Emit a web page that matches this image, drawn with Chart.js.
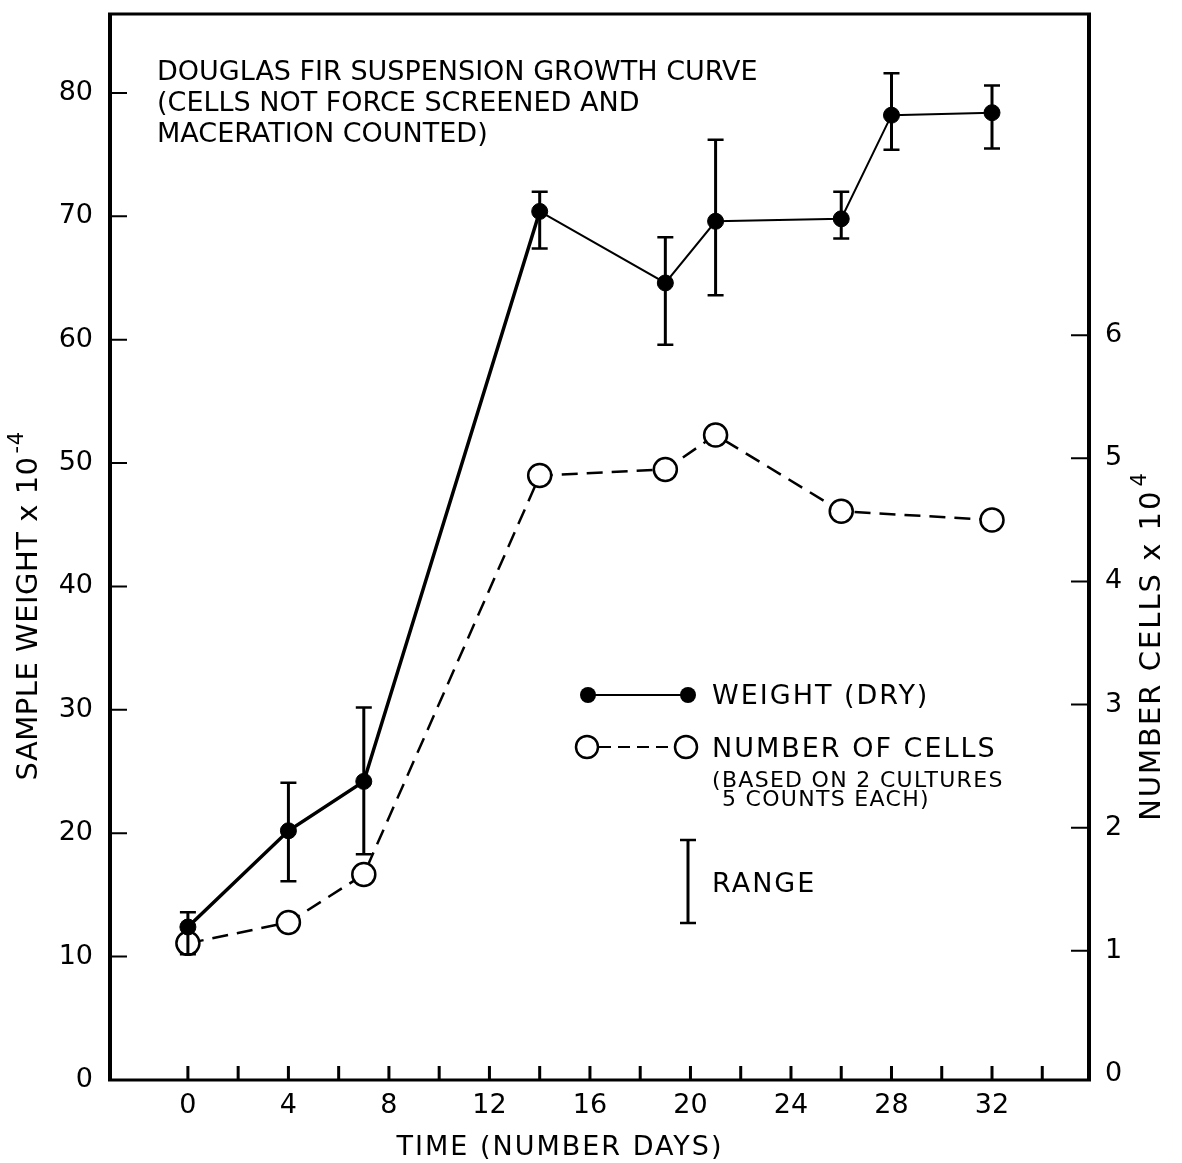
<!DOCTYPE html>
<html>
<head>
<meta charset="utf-8">
<script src="https://cdn.jsdelivr.net/npm/chart.js@4.4.1/dist/chart.umd.min.js"></script>
<style>
  body { margin: 0; background: #fff; }
  #wrap { width: 1182px; height: 1163px; }
</style>
</head>
<body>
<div id="wrap"><canvas id="growthChart" width="1182" height="1163"></canvas></div>
<script>
// days sampled
const weightDays = [0, 4, 7, 14, 19, 21, 26, 28, 32];
const weight = [12.4, 20.2, 24.2, 70.4, 64.6, 69.6, 69.8, 78.2, 78.4];
const weightLow = [10.2, 16.1, 18.3, 67.4, 59.6, 63.6, 68.2, 75.4, 75.5];
const weightHigh = [13.6, 24.1, 30.2, 72.0, 68.3, 76.2, 72.0, 81.6, 80.6];

const cellDays = [0, 4, 7, 14, 19, 21, 26, 32];
const cells = [1.06, 1.23, 1.62, 4.86, 4.91, 5.19, 4.57, 4.50];

const xLabelTicks = [0, 4, 8, 12, 16, 20, 24, 28, 32];
const xMinorTicks = [0, 2, 4, 6, 8, 10, 12, 14, 16, 18, 20, 22, 24, 26, 28, 30, 32, 34];
const weightTicks = [0, 10, 20, 30, 40, 50, 60, 70, 80];
const cellTicks = [0, 1, 2, 3, 4, 5, 6];

const FONT = '"DejaVu Sans", sans-serif';

function textWithSup(ctx, cx, cy, base, sup, size, rot, spacing) {
  ctx.save();
  ctx.translate(cx, cy);
  ctx.rotate(rot);
  ctx.fillStyle = '#000';
  ctx.textAlign = 'left';
  ctx.textBaseline = 'alphabetic';
  ctx.letterSpacing = spacing + 'px';
  const small = Math.round(size * 0.72);
  ctx.font = size + 'px ' + FONT;
  const w1 = ctx.measureText(base).width;
  ctx.font = small + 'px ' + FONT;
  const w2 = ctx.measureText(sup).width;
  const x0 = -(w1 + w2 + 3) / 2;
  const base_y = size * 0.36;
  ctx.font = size + 'px ' + FONT;
  ctx.fillText(base, x0, base_y);
  ctx.font = small + 'px ' + FONT;
  ctx.fillText(sup, x0 + w1 + 3, base_y - size * 0.5);
  ctx.restore();
}

// frame, inward ticks, error bars, notes and legend
const decorPlugin = {
  id: 'decor',
  beforeDatasetsDraw(chart) {
    const ctx = chart.ctx;
    const a = chart.chartArea;
    const xs = chart.scales.x, yl = chart.scales.y, yr = chart.scales.y1;
    ctx.save();
    ctx.strokeStyle = '#000';
    ctx.lineCap = 'butt';

    // frame
    ctx.lineWidth = 4;
    ctx.beginPath();
    ctx.moveTo(a.left, a.top); ctx.lineTo(a.left, a.bottom);
    ctx.moveTo(a.right, a.top); ctx.lineTo(a.right, a.bottom);
    ctx.stroke();
    ctx.lineWidth = 3;
    ctx.beginPath();
    ctx.moveTo(a.left - 2, a.bottom); ctx.lineTo(a.right + 2, a.bottom);
    ctx.moveTo(a.left - 2, a.top); ctx.lineTo(a.right + 2, a.top);
    ctx.stroke();

    // inward ticks
    ctx.lineWidth = 3;
    ctx.beginPath();
    xMinorTicks.forEach(v => {
      const x = xs.getPixelForValue(v);
      ctx.moveTo(x, a.bottom); ctx.lineTo(x, a.bottom - 14);
    });
    ctx.stroke();
    ctx.lineWidth = 2;
    ctx.beginPath();
    weightTicks.slice(1).forEach(v => {
      const y = yl.getPixelForValue(v);
      ctx.moveTo(a.left, y); ctx.lineTo(a.left + 17, y);
    });
    cellTicks.slice(1).forEach(v => {
      const y = yr.getPixelForValue(v);
      ctx.moveTo(a.right, y); ctx.lineTo(a.right - 18, y);
    });
    ctx.stroke();
    ctx.restore();
  },
  afterDatasetsDraw(chart) {
    const ctx = chart.ctx;
    const xs = chart.scales.x, yl = chart.scales.y;
    ctx.save();
    ctx.strokeStyle = '#000';
    ctx.fillStyle = '#000';

    // range bars on weight
    weightDays.forEach((d, i) => {
      const x = xs.getPixelForValue(d);
      const y0 = yl.getPixelForValue(weightLow[i]);
      const y1 = yl.getPixelForValue(weightHigh[i]);
      ctx.lineWidth = 3;
      ctx.beginPath();
      ctx.moveTo(x, y0); ctx.lineTo(x, y1);
      ctx.stroke();
      ctx.lineWidth = 2.5;
      ctx.beginPath();
      ctx.moveTo(x - 8, y0); ctx.lineTo(x + 8, y0);
      ctx.moveTo(x - 8, y1); ctx.lineTo(x + 8, y1);
      ctx.stroke();
    });

    // note at top left
    ctx.textAlign = 'left';
    ctx.textBaseline = 'alphabetic';
    ctx.font = '27px ' + FONT;
    ctx.fillText('DOUGLAS FIR SUSPENSION GROWTH CURVE', 157, 80);
    ctx.fillText('(CELLS NOT FORCE SCREENED AND', 157, 111);
    ctx.fillText('MACERATION COUNTED)', 157, 142);

    // legend
    ctx.lineWidth = 2;
    ctx.beginPath();
    ctx.moveTo(588, 695); ctx.lineTo(688, 695);
    ctx.stroke();
    [588, 688].forEach(x => {
      ctx.beginPath(); ctx.arc(x, 695, 8, 0, Math.PI * 2); ctx.fill();
    });
    ctx.setLineDash([12, 7]);
    ctx.beginPath();
    ctx.moveTo(599, 747); ctx.lineTo(675, 747);
    ctx.stroke();
    ctx.setLineDash([]);
    ctx.lineWidth = 2.5;
    [587, 686].forEach(x => {
      ctx.beginPath(); ctx.arc(x, 747, 11, 0, Math.PI * 2);
      ctx.fillStyle = '#fff'; ctx.fill(); ctx.stroke();
    });
    ctx.fillStyle = '#000';
    ctx.lineWidth = 3;
    ctx.beginPath();
    ctx.moveTo(688, 840); ctx.lineTo(688, 923);
    ctx.stroke();
    ctx.lineWidth = 2.5;
    ctx.beginPath();
    ctx.moveTo(680, 840); ctx.lineTo(696, 840);
    ctx.moveTo(680, 923); ctx.lineTo(696, 923);
    ctx.stroke();

    ctx.font = '27px ' + FONT;
    ctx.letterSpacing = '2px';
    ctx.fillText('WEIGHT (DRY)', 712, 704);
    ctx.fillText('NUMBER OF CELLS', 712, 757);
    ctx.fillText('RANGE', 712, 892);
    ctx.font = '22px ' + FONT;
    ctx.letterSpacing = '1.3px';
    ctx.fillText('(BASED ON 2 CULTURES', 712, 787);
    ctx.fillText('5 COUNTS EACH)', 722, 806);

    // axis titles
    ctx.font = '27px ' + FONT;
    ctx.letterSpacing = '2px';
    ctx.textAlign = 'center';
    ctx.fillText('TIME (NUMBER DAYS)', 560, 1155);
    ctx.restore();

    textWithSup(ctx, 27, 606, 'SAMPLE WEIGHT x 10', '-4', 29, -Math.PI / 2, 0.5);
    textWithSup(ctx, 1150, 646, 'NUMBER CELLS x 10', '4', 29, -Math.PI / 2, 2);
  }
};

const tickFont = { family: FONT, size: 27 };
const noPad = s => { s.paddingTop = 0; s.paddingBottom = 0; s.paddingLeft = 0; s.paddingRight = 0; };

const chart = new Chart(document.getElementById('growthChart'), {
  type: 'line',
  data: {
    datasets: [{
      label: 'WEIGHT (DRY)',
      data: weightDays.map((d, i) => ({ x: d, y: weight[i] })),
      yAxisID: 'y',
      borderColor: '#000',
      borderWidth: 2,
      segment: {
        borderWidth: c => (c.p0DataIndex < 3 ? 3.5 : 2)
      },
      pointRadius: 8,
      pointBackgroundColor: '#000',
      pointBorderColor: '#000',
      pointBorderWidth: 1,
      tension: 0,
      fill: false
    }, {
      label: 'NUMBER OF CELLS',
      data: cellDays.map((d, i) => ({ x: d, y: cells[i] })),
      yAxisID: 'y1',
      borderColor: '#000',
      borderWidth: 2.5,
      borderDash: [16, 9],
      pointRadius: 11.5,
      pointBackgroundColor: '#fff',
      pointBorderColor: '#000',
      pointBorderWidth: 2.5,
      tension: 0,
      fill: false
    }]
  },
  options: {
    responsive: false,
    animation: false,
    layout: { padding: { top: 12, left: 0, right: 0, bottom: 0 } },
    plugins: {
      legend: { display: false },
      tooltip: { enabled: false }
    },
    scales: {
      x: {
        type: 'linear',
        min: -3.1,
        max: 35.86,
        afterBuildTicks: s => { s.ticks = xLabelTicks.map(v => ({ value: v })); },
        afterFit: s => { s.height = 83; noPad(s); },
        grid: { display: false, drawTicks: false },
        border: { display: false },
        ticks: { color: '#000', font: tickFont, padding: 10, maxRotation: 0 }
      },
      y: {
        position: 'left',
        min: 0,
        max: 86.4,
        afterBuildTicks: s => { s.ticks = weightTicks.map(v => ({ value: v })); },
        afterFit: s => { s.width = 110; noPad(s); },
        grid: { display: false, drawTicks: false },
        border: { display: false },
        ticks: { color: '#000', font: tickFont, padding: 17 }
      },
      y1: {
        position: 'right',
        min: -0.05,
        max: 8.61,
        afterBuildTicks: s => { s.ticks = cellTicks.map(v => ({ value: v })); },
        afterFit: s => { s.width = 93; noPad(s); },
        grid: { display: false, drawTicks: false },
        border: { display: false },
        ticks: { color: '#000', font: tickFont, padding: 16 }
      }
    }
  },
  plugins: [decorPlugin]
});
</script>
</body>
</html>
